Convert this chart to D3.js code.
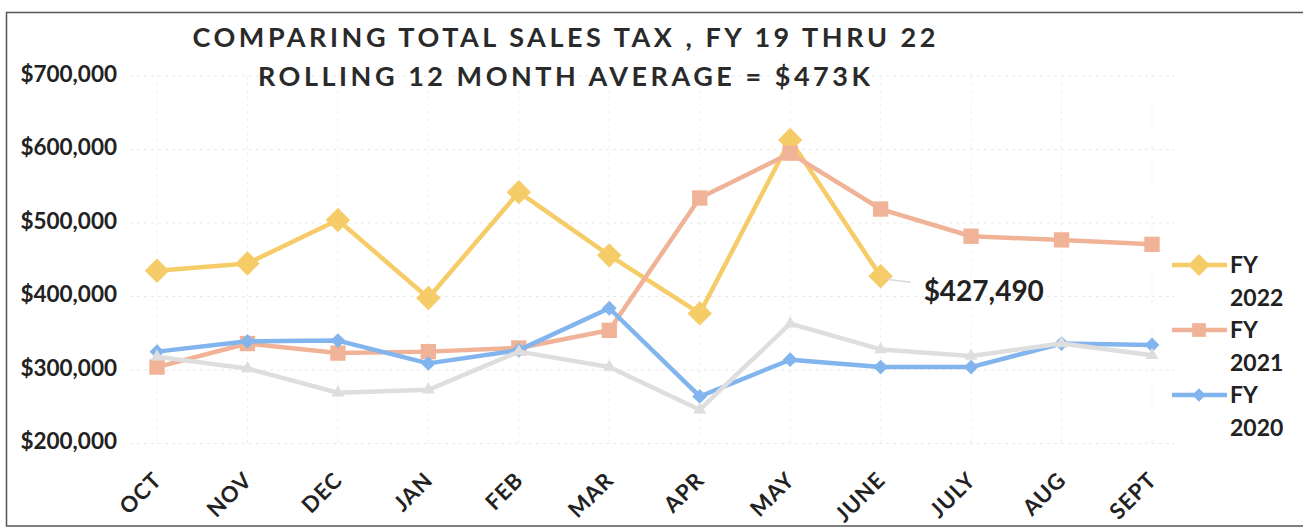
<!DOCTYPE html>
<html>
<head>
<meta charset="utf-8">
<script src="https://cdn.jsdelivr.net/npm/d3@7"></script>
<style>
  body { margin: 0; background: #fff; }
  svg { display: block; font-family: Lato, "Open Sans", sans-serif; }
</style>
</head>
<body>
<div id="viz"></div>
<script>
const width = 1303;
const height = 527;

// data
const months = ['OCT', 'NOV', 'DEC', 'JAN', 'FEB', 'MAR', 'APR', 'MAY', 'JUNE', 'JULY', 'AUG', 'SEPT'];
const fy2022 = [435000, 445000, 504000, 398000, 542000, 456000, 377000, 613000, 427490];
const fy2021 = [304000, 336000, 323000, 325000, 330000, 354000, 534000, 595000, 519000, 482000, 477000, 471000];
const fy2020 = [325000, 339000, 340000, 309000, 327000, 384000, 264000, 314000, 304000, 304000, 336000, 334000];
const fy2019 = [318000, 302000, 269000, 273000, 325000, 304000, 246000, 363000, 328000, 319000, 336000, 320000];
const yTicks = [200000, 300000, 400000, 500000, 600000, 700000];
const titleLines = ['COMPARING TOTAL SALES TAX , FY 19 THRU 22', 'ROLLING 12 MONTH AVERAGE = $473K'];
const lastLabel = '$427,490';

// draw order = Excel series order, later ones on top
const series = [
  {name: 'FY 2022', values: fy2022, color: '#F6CC68', symbol: d3.symbolDiamond2, size: 380, legend: true},
  {name: 'FY 2021', values: fy2021, color: '#F1B397', symbol: d3.symbolSquare2, size: 300, legend: true},
  {name: 'FY 2020', values: fy2020, color: '#82B4EE', symbol: d3.symbolDiamond2, size: 140, legend: true},
  {name: 'FY 2019', values: fy2019, color: '#DEDEDE', symbol: d3.symbolTriangle2, size: 120, legend: false}
];

const xScale = d3.scalePoint()
  .domain(months)
  .range([157, 1152]);

const yScale = d3.scaleLinear()
  .domain([200000, 700000])
  .range([443.5, 76]);

const svg = d3.select('#viz')
  .append('svg')
    .attr('width', width)
    .attr('height', height);

// frame of the pasted chart
svg.append('rect')
  .attr('x', 6.5).attr('y', 12.5)
  .attr('width', 1320).attr('height', 513.5)
  .attr('fill', 'none')
  .attr('stroke', '#555')
  .attr('stroke-width', 1.5);

// faint grid
svg.append('g')
  .selectAll('line')
  .data(yTicks)
  .join('line')
    .attr('x1', 130).attr('x2', 1175)
    .attr('y1', d => yScale(d)).attr('y2', d => yScale(d))
    .attr('stroke', '#e9e9e9')
    .attr('stroke-dasharray', '3,4');

svg.append('g')
  .selectAll('line')
  .data(months)
  .join('line')
    .attr('x1', d => xScale(d)).attr('x2', d => xScale(d))
    .attr('y1', yScale(700000)).attr('y2', yScale(200000))
    .attr('stroke', '#efefef')
    .attr('stroke-dasharray', '3,4');

// y axis labels
const yAxis = svg.append('g')
  .attr('transform', 'translate(117, -2)')
  .call(d3.axisLeft(yScale).tickValues(yTicks).tickSize(0).tickPadding(0)
    .tickFormat(d => '$' + d3.format(',')(d)));
yAxis.select('.domain').remove();
yAxis.selectAll('text')
  .attr('font-family', 'Lato, sans-serif')
  .attr('font-size', 22.5)
  .attr('font-weight', 'bold')
  .attr('fill', '#222');

// x axis labels, rotated
const xAxis = svg.append('g')
  .attr('transform', 'translate(0, 476)')
  .call(d3.axisBottom(xScale).tickSize(0).tickPadding(0));
xAxis.select('.domain').remove();
xAxis.selectAll('text')
  .attr('font-family', 'Lato, sans-serif')
  .attr('font-size', 22)
  .attr('font-weight', 'bold')
  .attr('letter-spacing', 1)
  .attr('fill', '#222')
  .attr('text-anchor', 'end')
  .attr('dy', '0.35em')
  .attr('transform', 'rotate(-45)');

// title
const titleWidths = [743, 612];
svg.append('g')
  .selectAll('text')
  .data(titleLines)
  .join('text')
    .attr('x', 564)
    .attr('y', (d, i) => 47 + i * 39)
    .attr('text-anchor', 'middle')
    .attr('font-size', 27)
    .attr('font-weight', 'bold')
    .attr('textLength', (d, i) => titleWidths[i])
    .attr('lengthAdjust', 'spacing')
    .attr('fill', '#2a2a2a')
    .text(d => d);

// series
const line = d3.line()
  .x((d, i) => xScale(months[i]))
  .y(d => yScale(d));

const groups = svg.append('g')
  .selectAll('g')
  .data(series)
  .join('g');

groups.append('path')
  .attr('d', d => line(d.values))
  .attr('fill', 'none')
  .attr('stroke', d => d.color)
  .attr('stroke-width', 4.5)
  .attr('stroke-linejoin', 'round');

groups.each(function(s) {
  d3.select(this)
    .selectAll('path.marker')
    .data(s.values)
    .join('path')
      .attr('class', 'marker')
      .attr('transform', (d, i) => `translate(${xScale(months[i])}, ${yScale(d)})`)
      .attr('d', d3.symbol(s.symbol, s.size))
      .attr('fill', s.color);
});

// label on the last FY 2022 point
const lastIdx = fy2022.length - 1;
const lx = xScale(months[lastIdx]);
const ly = yScale(fy2022[lastIdx]);
svg.append('line')
  .attr('x1', lx + 6).attr('x2', lx + 30)
  .attr('y1', ly + 3).attr('y2', ly + 6)
  .attr('stroke', '#d8d8d8')
  .attr('stroke-width', 1.5);
svg.append('text')
  .attr('x', lx + 43)
  .attr('y', ly + 25)
  .attr('font-size', 28)
  .attr('font-weight', 'bold')
  .attr('fill', '#222')
  .text(lastLabel);

// legend
const legend = svg.append('g')
  .selectAll('g')
  .data(series.filter(s => s.legend))
  .join('g')
    .attr('transform', (d, i) => `translate(1172, ${265 + i * 65})`);

legend.append('line')
  .attr('x1', 0).attr('x2', 55)
  .attr('stroke', d => d.color)
  .attr('stroke-width', 4.5);

legend.append('path')
  .attr('transform', 'translate(27, 0)')
  .attr('d', d => d3.symbol(d.symbol, d.size * 0.8)())
  .attr('fill', d => d.color);

legend.append('text')
  .attr('x', 58)
  .attr('font-size', 23)
  .attr('font-weight', 'bold')
  .attr('fill', '#222')
  .selectAll('tspan')
  .data(d => d.name.split(' '))
  .join('tspan')
    .attr('x', 58)
    .attr('y', (d, i) => 8 + i * 33)
    .text(d => d);
</script>
</body>
</html>
